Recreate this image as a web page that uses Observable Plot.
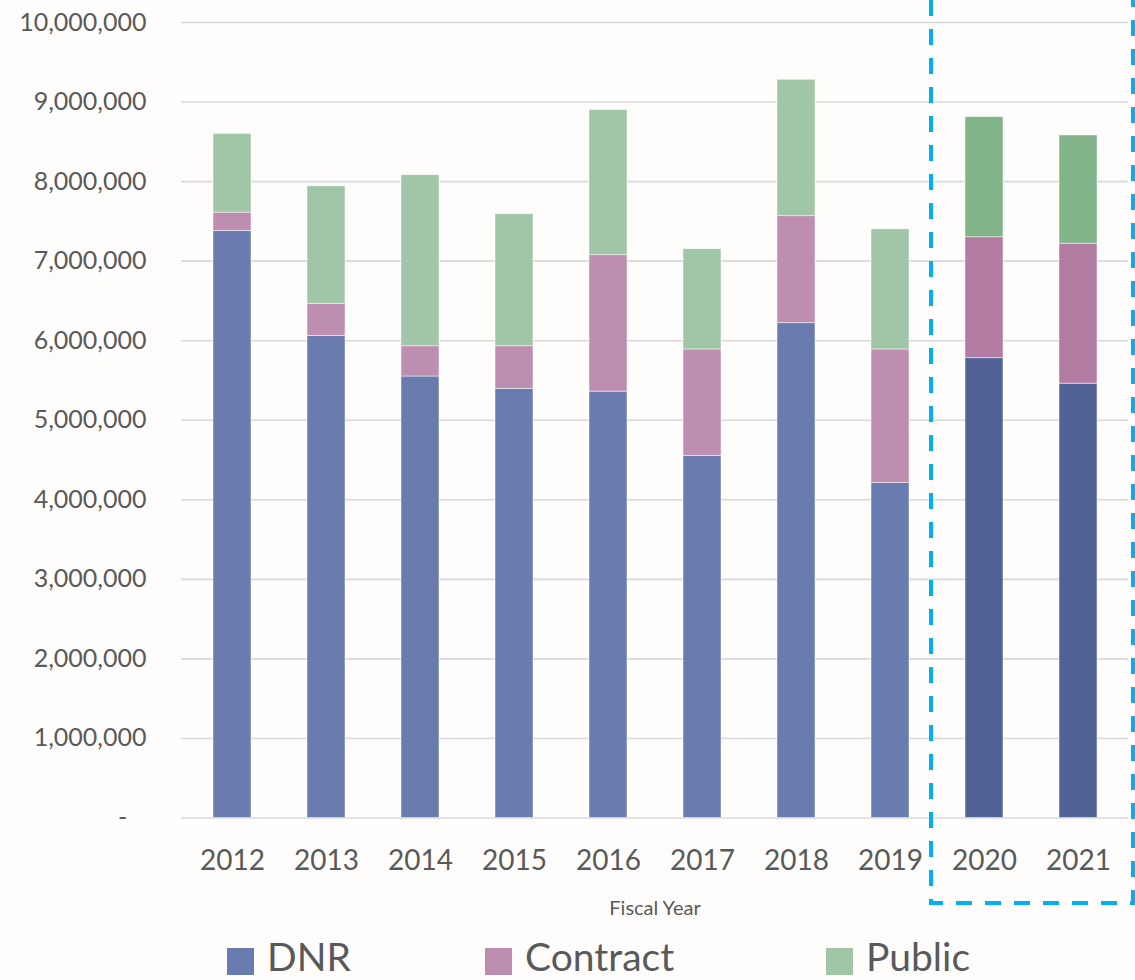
<!DOCTYPE html>
<html>
<head>
<meta charset="utf-8">
<script src="https://cdn.jsdelivr.net/npm/d3@7"></script>
<script src="https://cdn.jsdelivr.net/npm/@observablehq/plot@0.6"></script>
<style>
  html, body { margin: 0; padding: 0; background: #fefdfc; }
  body { width: 1135px; height: 980px; overflow: hidden; font-family: Lato, "Open Sans", sans-serif; }
  #legend { position: relative; height: 40px; line-height: 40px; font-size: 39px; color: #595959; }
  .item { position: absolute; top: 0; display: flex; align-items: flex-start; white-space: nowrap; }
  .sw { width: 27px; height: 27px; margin-top: 12px; margin-right: 13px; }
</style>
</head>
<body>
<div id="chart"></div>
<div id="legend"></div>
<script>
const years = [2012, 2013, 2014, 2015, 2016, 2017, 2018, 2019, 2020, 2021];
const seriesNames = ["DNR", "Contract", "Public"];
const dnr      = [7380000, 6060000, 5550000, 5395000, 5360000, 4550000, 6220000, 4210000, 5780000, 5460000];
const contract = [230000, 400000, 380000, 535000, 1715000, 1340000, 1345000, 1680000, 1520000, 1760000];
const pub      = [990000, 1480000, 2150000, 1660000, 1825000, 1260000, 1715000, 1510000, 1510000, 1360000];
const yTicks = [0, 1000000, 2000000, 3000000, 4000000, 5000000, 6000000, 7000000, 8000000, 9000000, 10000000];
const highlightYears = [2020, 2021];
const colors = {
  DNR: ["#6a7bb0", "#506296"],
  Contract: ["#bd8eb0", "#b27ca2"],
  Public: ["#a1c6a7", "#82b48a"]
};
const legendLeft = {DNR: 227, Contract: 485, Public: 826};

const valuesBySeries = {DNR: dnr, Contract: contract, Public: pub};
const data = [];
years.forEach((yr, i) => {
  seriesNames.forEach(s => {
    data.push({year: yr, series: s, value: valuesBySeries[s][i],
      color: colors[s][highlightYears.includes(yr) ? 1 : 0]});
  });
});

const W = 1135, H = 936;
const plot = Plot.plot({
  width: W,
  height: H,
  marginLeft: 181,
  marginRight: 7,
  marginTop: 22,
  marginBottom: H - 817.5,
  style: {background: "transparent", fontFamily: "Lato, 'Open Sans', sans-serif", color: "#595959"},
  x: {type: "band", domain: years, paddingInner: 0.6, paddingOuter: 0.3, align: 0.5, label: null},
  y: {domain: [0, 10000000], label: null},
  color: {type: "identity"},
  marks: [
    Plot.ruleY(yTicks, {stroke: "#d9d9d9", strokeWidth: 1.6}),
    Plot.barY(data, Plot.stackY({x: "year", y: "value", z: "series", fill: "color", stroke: "#ffffff", strokeWidth: 0.7, strokeOpacity: 0.7})),
    Plot.axisY({ticks: yTicks, tickSize: 0, tickPadding: 35, fontSize: 25, fill: "#595959", label: null,
      tickFormat: d => d === 0 ? "-\u00a0\u00a0\u00a0" : d3.format(",")(d)}),
    Plot.axisX({tickSize: 0, tickPadding: 32, fontSize: 28, fill: "#595959", label: null, tickFormat: d => String(d)}),
    Plot.text(["Fiscal Year"], {frameAnchor: "bottom", dy: 91, fontSize: 20, fill: "#595959", lineAnchor: "middle"})
  ]
});
document.getElementById("chart").appendChild(plot);

// dashed highlight box around the projected years
const xs = plot.scale("x");
const left = xs.apply(highlightYears[0]) - 34;
const right = W - 2;
const bottom = 903;
d3.select(plot).append("path")
  .attr("d", `M${left},0 L${left},${bottom} L${right},${bottom} L${right},0`)
  .attr("fill", "none")
  .attr("stroke", "#00b0f0")
  .attr("stroke-width", 4)
  .attr("stroke-dasharray", "16,13");

// legend
const legend = d3.select("#legend");
seriesNames.forEach(s => {
  const it = legend.append("div").attr("class", "item").style("left", legendLeft[s] + "px");
  it.append("div").attr("class", "sw").style("background", colors[s][0]);
  it.append("span").text(s);
});
</script>
</body>
</html>
